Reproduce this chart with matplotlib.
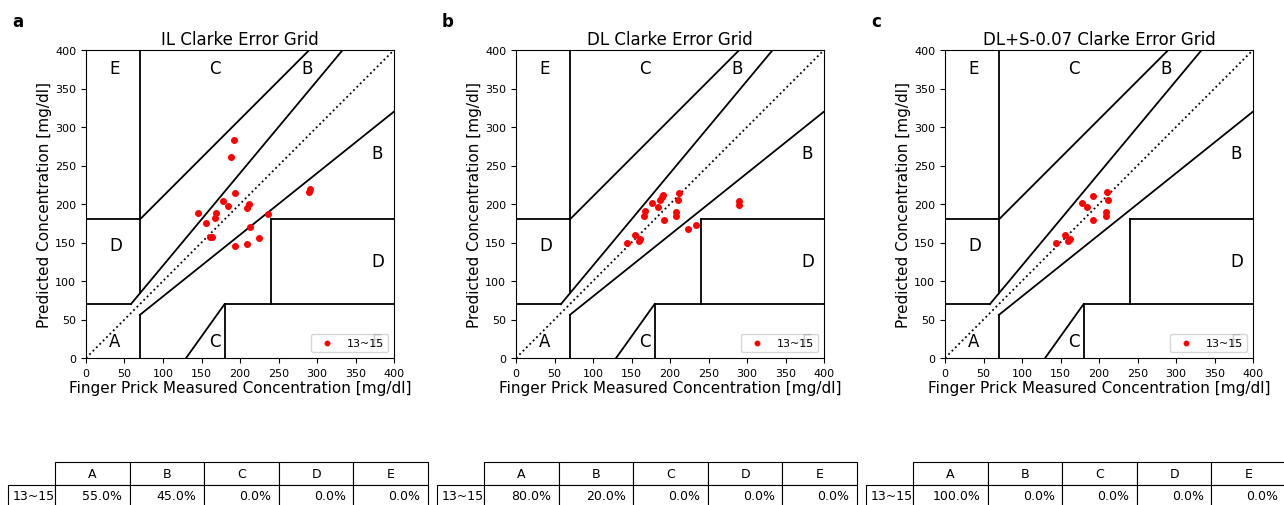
import matplotlib
matplotlib.use("Agg")
import matplotlib.pyplot as plt

# reference (finger prick) and predicted values
il_ref = [192, 188, 193, 178, 185, 212, 209.5, 145, 169, 167, 156, 236, 212.5,
          161.5, 164, 225, 193, 209.5, 291, 290]
il_pred = [283.5, 260.5, 214.5, 204, 197, 200, 195, 188.5, 188.5, 181.5, 175, 186.5,
           169.5, 156.5, 156.5, 156, 146, 148.5, 220, 215]

dl_ref = [191.3, 189.6, 211.3, 210.8, 187, 177, 184, 167.5, 165.8, 208.2, 208.2,
          191.8, 233.8, 223.8, 155, 161.4, 159.7, 143.7, 289.2, 290]
dl_pred = [211.7, 209.5, 214.3, 205.2, 205.6, 200.9, 196.5, 190.5, 184.4, 189.2,
           184.8, 178.8, 172.3, 167.5, 159.3, 154.5, 151.9, 149.7, 203.9, 199.1]

dls_ref = [210.8, 211.3, 192.6, 177.5, 184.4, 208.7, 208.7, 192.6, 155.4, 161.9,
           159.7, 143.7]
dls_pred = [215.2, 205.2, 210, 200.9, 196.5, 189.2, 184.8, 178.8, 159.3, 154.5,
            152.4, 149.4]

titles = ["IL Clarke Error Grid", "DL Clarke Error Grid", "DL+S-0.07 Clarke Error Grid"]
letters = ["a", "b", "c"]
zones = ["A", "B", "C", "D", "E"]
row_label = "13~15"
zone_pct = [
    [55.0, 45.0, 0.0, 0.0, 0.0],
    [80.0, 20.0, 0.0, 0.0, 0.0],
    [100.0, 0.0, 0.0, 0.0, 0.0],
]

series = [(il_ref, il_pred), (dl_ref, dl_pred), (dls_ref, dls_pred)]

W, H = 1284, 506
fig = plt.figure(figsize=(W / 100, H / 100), dpi=100)


def clarke_grid(ax):
    k = dict(color="black", lw=1.3)
    ax.plot([0, 400], [0, 400], ":", color="black", lw=1.3)
    ax.plot([0, 175 / 3], [70, 70], **k)
    ax.plot([175 / 3, 400 / 1.2], [70, 400], **k)
    ax.plot([70, 70], [84, 400], **k)
    ax.plot([0, 70], [180, 180], **k)
    ax.plot([70, 290], [180, 400], **k)
    ax.plot([70, 70], [0, 56], **k)
    ax.plot([70, 400], [56, 320], **k)
    ax.plot([180, 180], [0, 70], **k)
    ax.plot([180, 400], [70, 70], **k)
    ax.plot([240, 240], [70, 180], **k)
    ax.plot([240, 400], [180, 180], **k)
    ax.plot([130, 180], [0, 70], **k)
    fs = 12
    ax.text(30, 15, "A", fontsize=fs)
    ax.text(370, 260, "B", fontsize=fs)
    ax.text(280, 370, "B", fontsize=fs)
    ax.text(160, 370, "C", fontsize=fs)
    ax.text(160, 15, "C", fontsize=fs)
    ax.text(30, 140, "D", fontsize=fs)
    ax.text(370, 120, "D", fontsize=fs)
    ax.text(30, 370, "E", fontsize=fs)
    # this E sits under the legend, as in the original
    ax.text(370, 15, "E", fontsize=fs)


lefts = [86, 516, 945]
table_lefts = [8, 437, 866]
for i in range(3):
    ax = fig.add_axes([lefts[i] / W, (H - 359) / H, 308 / W, 308 / H])
    x, y = series[i]
    ax.scatter(x, y, s=16, color="red", zorder=3, label=row_label)
    clarke_grid(ax)
    ax.set_xlim(0, 400)
    ax.set_ylim(0, 400)
    ax.set_xticks(range(0, 401, 50))
    ax.set_yticks(range(0, 401, 50))
    ax.tick_params(labelsize=8)
    ax.set_xlabel("Finger Prick Measured Concentration [mg/dl]", fontsize=11, labelpad=2)
    ax.set_ylabel("Predicted Concentration [mg/dl]", fontsize=11, labelpad=2)
    ax.set_title(titles[i], fontsize=12, pad=4)
    ax.legend(loc="lower right", fontsize=8, markerscale=0.8)
    fig.text((lefts[i] - 74) / W, 1 - 22 / H, letters[i], fontsize=12,
             fontweight="bold", va="center")

    tax = fig.add_axes([table_lefts[i] / W, -2 / H, 420 / W, 45 / H])
    tax.axis("off")
    cells = [[row_label] + ["%.1f%%" % v for v in zone_pct[i]]]
    tb = tax.table(cellText=cells, colLabels=[""] + zones,
                   colWidths=[47] + [74.6] * 5, bbox=[0, 0, 1, 1],
                   cellLoc="right", colLoc="center")
    tb.auto_set_font_size(False)
    tb.set_fontsize(9)
    tb[0, 0].set_visible(False)
    tb[1, 0].get_text().set_ha("left")
    tb[1, 0]._loc = "left"
    for c in tb.get_celld().values():
        c.set_linewidth(0.8)

fig.savefig("out.png", dpi=100)
